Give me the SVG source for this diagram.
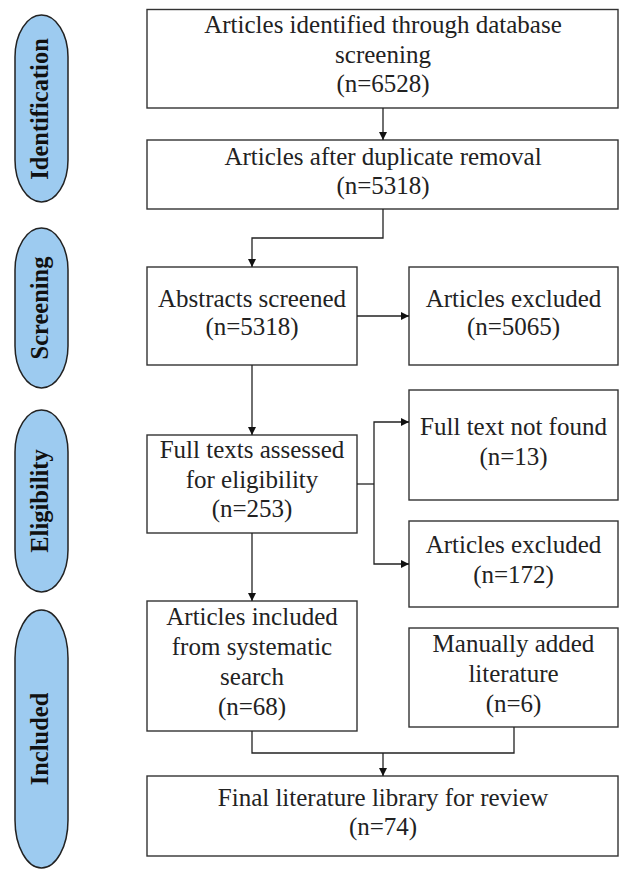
<svg xmlns="http://www.w3.org/2000/svg" width="619" height="869" viewBox="0 0 619 869">
<style>
.box{fill:#fff;stroke:#333;stroke-width:1.4}
.pill{fill:#9dcbf0;stroke:#222;stroke-width:1.5}
.t{font-family:"Liberation Serif",serif;font-size:25px;fill:#222;text-anchor:middle}
.lab{font-family:"Liberation Serif",serif;font-size:24.5px;font-weight:bold;fill:#111;text-anchor:middle}
.c{fill:none;stroke:#222;stroke-width:1.3}
</style>
<defs>
<marker id="ah" viewBox="0 0 10 10" refX="10" refY="5" markerWidth="8" markerHeight="8" markerUnits="userSpaceOnUse" orient="auto">
<path d="M0,0 L10,5 L0,10 Z" fill="#111"/>
</marker>
</defs>
<rect width="619" height="869" fill="#fff"/>
<g id="stage-identification"><rect class="pill" x="15" y="15" width="53" height="187" rx="26.5" ry="42"/><text class="lab" transform="translate(48,109) rotate(-90)">Identification</text></g>
<g id="stage-screening"><rect class="pill" x="15" y="228" width="53" height="160" rx="26.5" ry="42"/><text class="lab" transform="translate(48,308) rotate(-90)">Screening</text></g>
<g id="stage-eligibility"><rect class="pill" x="15" y="410" width="53" height="182" rx="26.5" ry="42"/><text class="lab" transform="translate(48,501) rotate(-90)">Eligibility</text></g>
<g id="stage-included"><rect class="pill" x="15" y="610" width="53" height="258" rx="26.5" ry="48"/><text class="lab" transform="translate(48,739) rotate(-90)">Included</text></g>

<g id="n-identified"><rect class="box" x="147" y="9.5" width="471" height="98.5"/><text class="t" x="383" y="33">Articles identified through database</text><text class="t" x="383" y="63">screening</text><text class="t" x="383" y="92">(n=6528)</text></g>
<g id="n-dedup"><rect class="box" x="147" y="140" width="471" height="69"/><text class="t" x="383" y="165">Articles after duplicate removal</text><text class="t" x="383" y="194">(n=5318)</text></g>
<g id="n-abstracts"><rect class="box" x="147" y="267" width="210" height="98"/><text class="t" x="252" y="307">Abstracts screened</text><text class="t" x="252" y="335">(n=5318)</text></g>
<g id="n-excl1"><rect class="box" x="409" y="267" width="209" height="98"/><text class="t" x="513.5" y="307">Articles excluded</text><text class="t" x="513.5" y="335">(n=5065)</text></g>
<g id="n-fulltext"><rect class="box" x="147" y="435" width="210" height="98"/><text class="t" x="252" y="458">Full texts assessed</text><text class="t" x="252" y="488">for eligibility</text><text class="t" x="252" y="517">(n=253)</text></g>
<g id="n-notfound"><rect class="box" x="409" y="390" width="209" height="110"/><text class="t" x="513.5" y="435">Full text not found</text><text class="t" x="513.5" y="465">(n=13)</text></g>
<g id="n-excl2"><rect class="box" x="409" y="521" width="209" height="86"/><text class="t" x="513.5" y="553">Articles excluded</text><text class="t" x="513.5" y="583">(n=172)</text></g>
<g id="n-included"><rect class="box" x="147" y="601" width="210" height="130"/><text class="t" x="252" y="625">Articles included</text><text class="t" x="252" y="655">from systematic</text><text class="t" x="252" y="685">search</text><text class="t" x="252" y="715">(n=68)</text></g>
<g id="n-manual"><rect class="box" x="409" y="628" width="209" height="99"/><text class="t" x="513.5" y="652">Manually added</text><text class="t" x="513.5" y="682">literature</text><text class="t" x="513.5" y="712">(n=6)</text></g>
<g id="n-final"><rect class="box" x="147" y="776" width="471" height="80"/><text class="t" x="383" y="806">Final literature library for review</text><text class="t" x="383" y="835">(n=74)</text></g>

<g id="connectors">
<path class="c" d="M383,108 V140" marker-end="url(#ah)"/>
<path class="c" d="M383,209 V238 H252 V267" marker-end="url(#ah)"/>
<path class="c" d="M357,316 H409" marker-end="url(#ah)"/>
<path class="c" d="M252,365 V435" marker-end="url(#ah)"/>
<path class="c" d="M357,484 H374"/>
<path class="c" d="M374,484 V422 H409" marker-end="url(#ah)"/>
<path class="c" d="M374,484 V564 H409" marker-end="url(#ah)"/>
<path class="c" d="M252,533 V601" marker-end="url(#ah)"/>
<path class="c" d="M252,731 V753 H514 V727"/>
<path class="c" d="M383,753 V776" marker-end="url(#ah)"/>
</g>
</svg>
